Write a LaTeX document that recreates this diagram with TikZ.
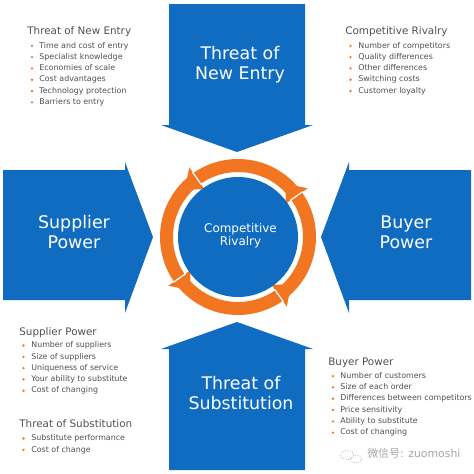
\documentclass[tikz,border=0pt]{standalone}
\usepackage{fontspec}
\setmainfont{DejaVu Sans}
\newfontfamily\cjkfont{Noto Sans CJK SC}
\usetikzlibrary{calc}
\definecolor{forceblue}{RGB}{16,108,192}
\definecolor{ringorange}{RGB}{242,117,34}
\definecolor{listgray}{RGB}{80,80,80}
\definecolor{markgray}{RGB}{165,165,165}

\begin{document}
\begin{tikzpicture}[x=0.02cm, y=-0.02cm,
        force/.style={fill=forceblue},
        forcelabel/.style={text=white, align=center, inner sep=0, font=\fontsize{9.9}{11.2}\selectfont},
        heading/.style={anchor=base west, inner sep=0, text=listgray, font=\fontsize{5.9}{7}\selectfont},
        item/.style={anchor=base west, inner sep=0, text=listgray, font=\fontsize{4.5}{5.5}\selectfont},
        bullet/.style={fill=ringorange}]
        \useasboundingbox (0,0) rectangle (474,474);

        % the four forces
        \fill[force] (169,4) -- (305,4) -- (305,125) -- (313,125) -- (237,152) -- (161,125) -- (169,125) -- cycle;
        \fill[force] (3,170) -- (125,170) -- (125,162) -- (153,237) -- (125,313) -- (125,300) -- (3,300) -- cycle;
        \fill[force] (471,170) -- (349,170) -- (349,162) -- (321,237) -- (349,313) -- (349,300) -- (471,300) -- cycle;
        \fill[force] (169,470) -- (305,470) -- (305,349) -- (313,349) -- (237,322) -- (161,349) -- (169,349) -- cycle;

        \node[forcelabel] (entry) at (240,65) {Threat of\\New Entry};
        \node[forcelabel] (supplier) at (74,232) {Supplier\\Power};
        \node[forcelabel] (buyer) at (406,232) {Buyer\\Power};
        \node[forcelabel] (substitution) at (241,393) {Threat of\\Substitution};

        % rivalry ring
        \coordinate (rc) at (238,237);
        \fill[ringorange, even odd rule] (rc) circle (1.56cm) (rc) circle (1.30cm);
        \foreach \t in {48,138,228,318} {
            \fill[ringorange] ($(rc)+({-(\t-13)}:58)$) -- ($(rc)+({-(\t-13)}:85)$) -- ($(rc)+(-\t:71.5)$) -- cycle;
            \draw[white, line width=0.7pt] ($(rc)+({-(\t-13)}:64)$) -- ($(rc)+({-(\t-13)}:79)$);
        }
        \fill[forceblue] (rc) circle (1.2cm);
        \node[text=white, align=center, inner sep=0, font=\fontsize{6.8}{7.4}\selectfont] (rivalry) at (240.5,235.7) {Competitive\\Rivalry};

        % lists
        \node[heading] (neh) at (27,34) {Threat of New Entry};
        \foreach \t [count=\i] in {Time and cost of entry, Specialist knowledge, Economies of scale, Cost advantages, Technology protection, Barriers to entry} {
            \node[item] (ne\i) at (39,{48+11.3*(\i-1)}) {\t};
            \fill[bullet] ($(ne\i.base west)+(-7,-2.2)$) circle (0.026cm);
        }

        \node[heading] (crh) at (345,34) {Competitive Rivalry};
        \foreach \t [count=\i] in {Number of competitors, Quality differences, Other differences, Switching costs, Customer loyalty} {
            \node[item] (cr\i) at (358,{48+11.3*(\i-1)}) {\t};
            \fill[bullet] ($(cr\i.base west)+(-7.5,-2.2)$) circle (0.026cm);
        }

        \node[heading] (sph) at (19,335) {Supplier Power};
        \foreach \t [count=\i] in {Number of suppliers, Size of suppliers, Uniqueness of service, Your ability to substitute, Cost of changing} {
            \node[item] (sp\i) at (31,{347.7+11.3*(\i-1)}) {\t};
            \fill[bullet] ($(sp\i.base west)+(-7.5,-2.2)$) circle (0.026cm);
        }

        \node[heading] (tsh) at (19,427.3) {Threat of Substitution};
        \foreach \t [count=\i] in {Substitute performance, Cost of change} {
            \node[item] (ts\i) at (31,{440.7+11.3*(\i-1)}) {\t};
            \fill[bullet] ($(ts\i.base west)+(-7.5,-2.2)$) circle (0.026cm);
        }

        \node[heading] (bph) at (328,365) {Buyer Power};
        \foreach \t [count=\i] in {Number of customers, Size of each order, Differences between competitors, Price sensitivity, Ability to substitute, Cost of changing} {
            \node[item] (bp\i) at (340,{378.3+11.3*(\i-1)}) {\t};
            \fill[bullet] ($(bp\i.base west)+(-7,-2.2)$) circle (0.026cm);
        }

        % watermark
        \draw[markgray, densely dotted, line width=0.4pt] (347,455) ellipse (0.13cm and 0.09cm);
        \draw[markgray, densely dotted, line width=0.4pt] (356,459) ellipse (0.11cm and 0.08cm);
        \node[anchor=base west, inner sep=0, text=markgray, font=\fontsize{6.2}{7}\selectfont] (mark) at (367,457) {{\cjkfont 微信号}: zuomoshi};
\end{tikzpicture}
\end{document}
